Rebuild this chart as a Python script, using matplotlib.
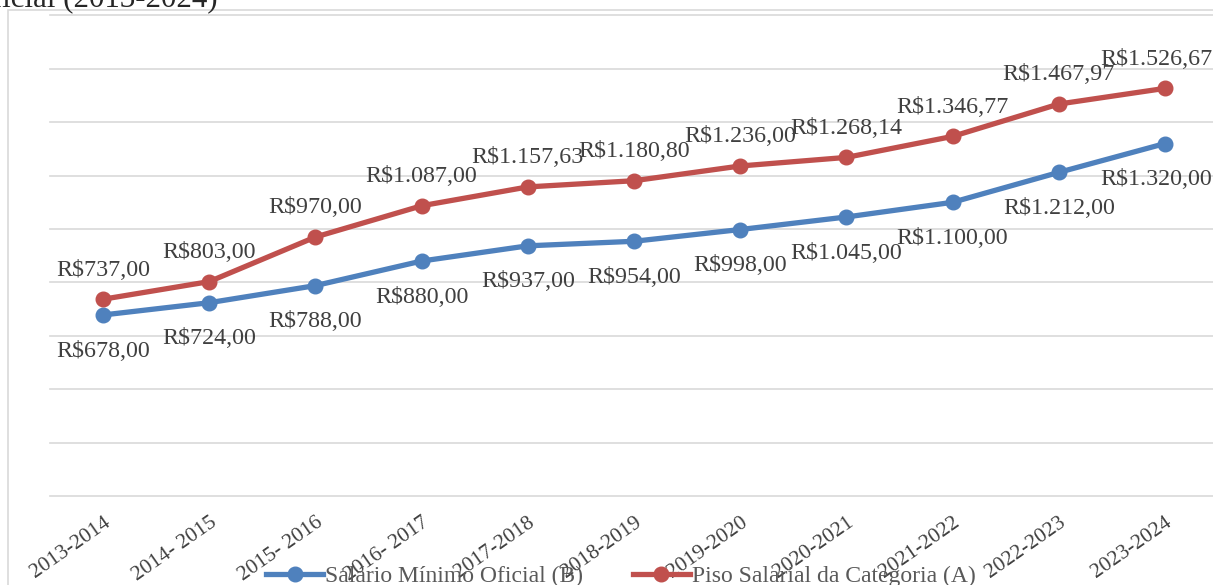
import matplotlib.pyplot as plt
from matplotlib.lines import Line2D

plt.rcParams['font.family'] = ['Liberation Serif', 'DejaVu Serif']

# anos (categorias do eixo x)
periodos = ['2013-2014', '2014- 2015', '2015- 2016', '2016- 2017', '2017-2018',
            '2018-2019', '2019-2020', '2020-2021', '2021-2022', '2022-2023', '2023-2024']

# Salario Minimo Oficial (B)
salario_minimo = [678.00, 724.00, 788.00, 880.00, 937.00, 954.00,
                  998.00, 1045.00, 1100.00, 1212.00, 1320.00]

# Piso Salarial da Categoria (A)
piso_salarial = [737.00, 803.00, 970.00, 1087.00, 1157.63, 1180.80,
                 1236.00, 1268.14, 1346.77, 1467.97, 1526.67]

azul = '#4F81BD'
vermelho = '#C0504D'
cinza_grade = '#D9D9D9'


def brl(v):
    # formato brasileiro: R$1.234,56
    s = f"{v:,.2f}"
    s = s.replace(',', 'X').replace('.', ',').replace('X', '.')
    return 'R$' + s


fig = plt.figure(figsize=(12.13, 5.85), dpi=100)

# borda do grafico (so aparece a esquerda e em cima)
fig.add_artist(plt.Rectangle((8 / 1213, -0.1), 1.2, 1 - 10 / 585 + 0.1,
                             transform=fig.transFigure, fill=False,
                             edgecolor=cinza_grade, linewidth=1.2))

# titulo cortado no topo
fig.text(218 / 1213, 1 - 7 / 585, 'Salário Mínimo e Piso Salarial Oficial (2013-2024)',
         ha='right', va='baseline', fontsize=22.3, color='#262626')

ax = fig.add_axes([50 / 1213, 89 / 585, 1168 / 1213, 480.6 / 585])
x = list(range(len(periodos)))

ax.plot(x, salario_minimo, color=azul, linewidth=3.8, marker='o', markersize=10.5,
        solid_capstyle='round', zorder=3)
ax.plot(x, piso_salarial, color=vermelho, linewidth=3.8, marker='o', markersize=10.5,
        solid_capstyle='round', zorder=3)

ax.set_xlim(-0.5, len(periodos) - 0.5)
ax.set_ylim(0, 1800)
ax.set_yticks(range(0, 1801, 200))
ax.set_yticklabels([])
ax.tick_params(axis='y', length=0)
ax.grid(axis='y', color=cinza_grade, linewidth=1.2)
for gl in ax.get_ygridlines():
    gl.set_clip_on(False)
ax.set_axisbelow(True)
for s in ax.spines.values():
    s.set_visible(False)

ax.set_xticks(x)
ax.set_xticklabels(periodos, rotation=35, ha='right', va='top', rotation_mode='anchor',
                   fontsize=15.5, color='#404040')
ax.tick_params(axis='x', length=0, pad=12)

# rotulos de dados
for i in x:
    dx = -9 if i == len(periodos) - 1 else 0
    ax.annotate(brl(piso_salarial[i]), (i, piso_salarial[i]), xytext=(dx * 0.72, 17),
                textcoords='offset points', ha='center', va='baseline',
                fontsize=17.3, color='#404040', annotation_clip=False)
    ax.annotate(brl(salario_minimo[i]), (i, salario_minimo[i]), xytext=(dx * 0.72, -30),
                textcoords='offset points', ha='center', va='baseline',
                fontsize=17.3, color='#404040', annotation_clip=False)

handles = [
    Line2D([0], [0], color=azul, lw=3.8, marker='o', markersize=10.5,
           label='Salário Mínimo Oficial (B)'),
    Line2D([0], [0], color=vermelho, lw=3.8, marker='o', markersize=10.5,
           label='Piso Salarial da Categoria (A)'),
]
fig.legend(handles=handles, loc='center', bbox_to_anchor=(621 / 1213, 1 - 576 / 585),
           ncol=2, frameon=False, fontsize=17, labelcolor='#595959',
           handlelength=2.4, handletextpad=0.1, columnspacing=2.1,
           borderpad=0, borderaxespad=0)

fig.savefig('out.png', dpi=100)
